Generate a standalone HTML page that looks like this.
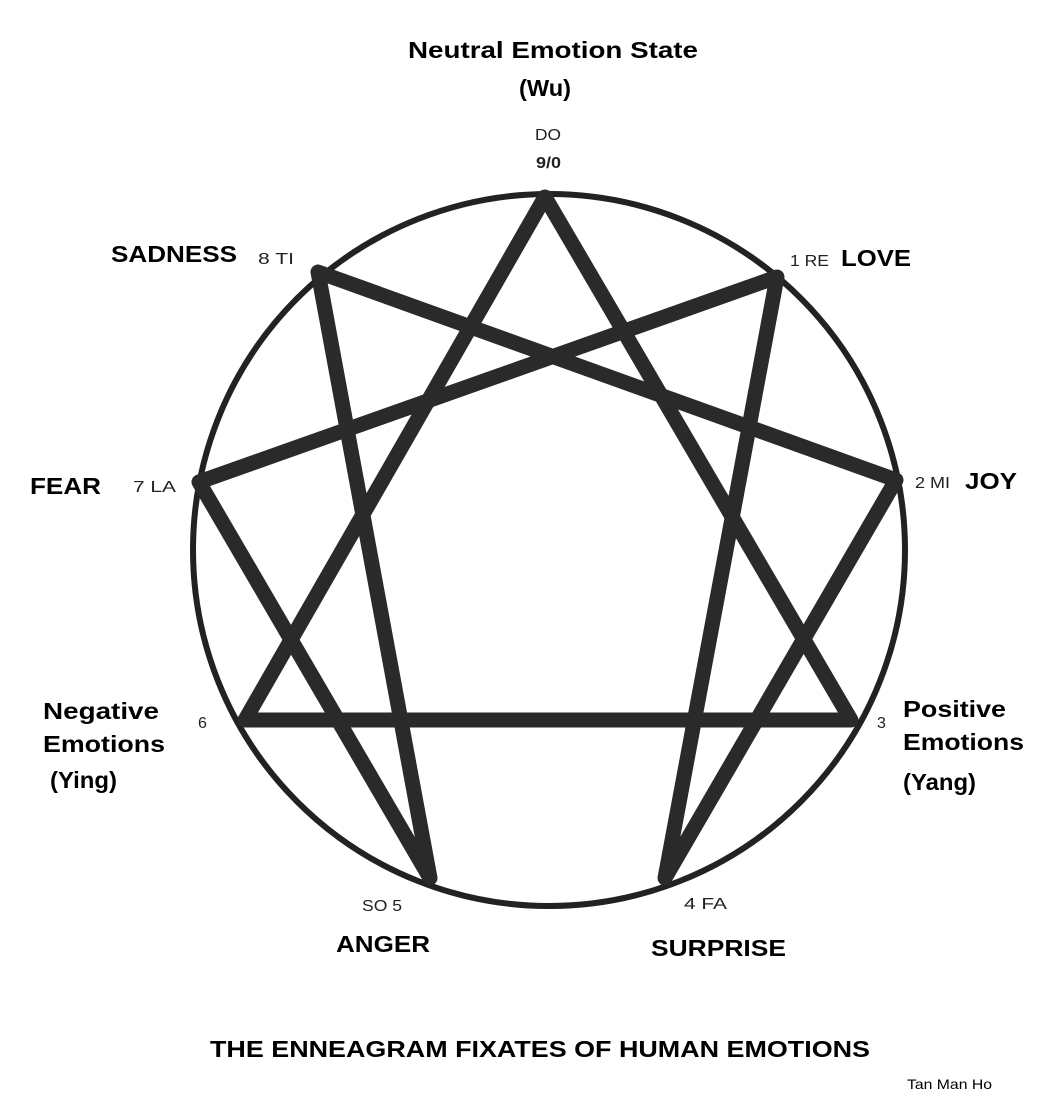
<!DOCTYPE html>
<html><head><style>
body{margin:0;background:#fff;}
svg{display:block}
text{font-family:"Liberation Sans",sans-serif;fill:#000}
.b{font-weight:bold;font-size:23px}
.s{font-size:16px;fill:#222}
</style></head><body>
<svg width="1050" height="1113" viewBox="0 0 1050 1113">
<circle cx="549" cy="550" r="356" fill="none" stroke="#222" stroke-width="6"/>
<g stroke="#2a2a2a" stroke-width="15" stroke-linejoin="round" stroke-linecap="round" fill="none">
<polygon points="545,197 851,720 245,720"/>
<polygon points="777,277 665,878 896,480 318,272 430,878 199,482"/>
</g>
<g lengthAdjust="spacingAndGlyphs">
<text class="b" x="408" y="58" textLength="290" lengthAdjust="spacingAndGlyphs">Neutral Emotion State</text>
<text class="b" x="519" y="96" textLength="52" lengthAdjust="spacingAndGlyphs">(Wu)</text>
<text class="s" x="535" y="140" textLength="26" lengthAdjust="spacingAndGlyphs">DO</text>
<text class="s" x="536" y="168" textLength="25" lengthAdjust="spacingAndGlyphs" font-weight="bold">9/0</text>
<text class="b" x="111" y="262" textLength="126" lengthAdjust="spacingAndGlyphs">SADNESS</text>
<text class="s" x="258" y="264" textLength="36" lengthAdjust="spacingAndGlyphs">8 TI</text>
<text class="s" x="790" y="266" textLength="39" lengthAdjust="spacingAndGlyphs">1 RE</text>
<text class="b" x="841" y="266" textLength="70" lengthAdjust="spacingAndGlyphs">LOVE</text>
<text class="b" x="30" y="494" textLength="71" lengthAdjust="spacingAndGlyphs">FEAR</text>
<text class="s" x="133" y="492" textLength="43" lengthAdjust="spacingAndGlyphs">7 LA</text>
<text class="s" x="915" y="488" textLength="35" lengthAdjust="spacingAndGlyphs">2 MI</text>
<text class="b" x="965" y="489" textLength="52" lengthAdjust="spacingAndGlyphs">JOY</text>
<text class="b" x="43" y="719" textLength="116" lengthAdjust="spacingAndGlyphs">Negative</text>
<text class="b" x="43" y="752" textLength="122" lengthAdjust="spacingAndGlyphs">Emotions</text>
<text class="b" x="50" y="788" textLength="67" lengthAdjust="spacingAndGlyphs">(Ying)</text>
<text class="s" x="198" y="728">6</text>
<text class="s" x="877" y="728">3</text>
<text class="b" x="903" y="717" textLength="103" lengthAdjust="spacingAndGlyphs">Positive</text>
<text class="b" x="903" y="750" textLength="121" lengthAdjust="spacingAndGlyphs">Emotions</text>
<text class="b" x="903" y="790" textLength="73" lengthAdjust="spacingAndGlyphs">(Yang)</text>
<text class="s" x="362" y="911" textLength="40" lengthAdjust="spacingAndGlyphs">SO 5</text>
<text class="s" x="684" y="909" textLength="43" lengthAdjust="spacingAndGlyphs">4  FA</text>
<text class="b" x="336" y="952" textLength="94" lengthAdjust="spacingAndGlyphs">ANGER</text>
<text class="b" x="651" y="956" textLength="135" lengthAdjust="spacingAndGlyphs">SURPRISE</text>
<text class="b" x="210" y="1057" textLength="660" lengthAdjust="spacingAndGlyphs">THE ENNEAGRAM FIXATES OF HUMAN EMOTIONS</text>
<text x="907" y="1089" font-size="14" fill="#333" textLength="85" lengthAdjust="spacingAndGlyphs">Tan Man Ho</text>
</g>
</svg>
</body></html>
